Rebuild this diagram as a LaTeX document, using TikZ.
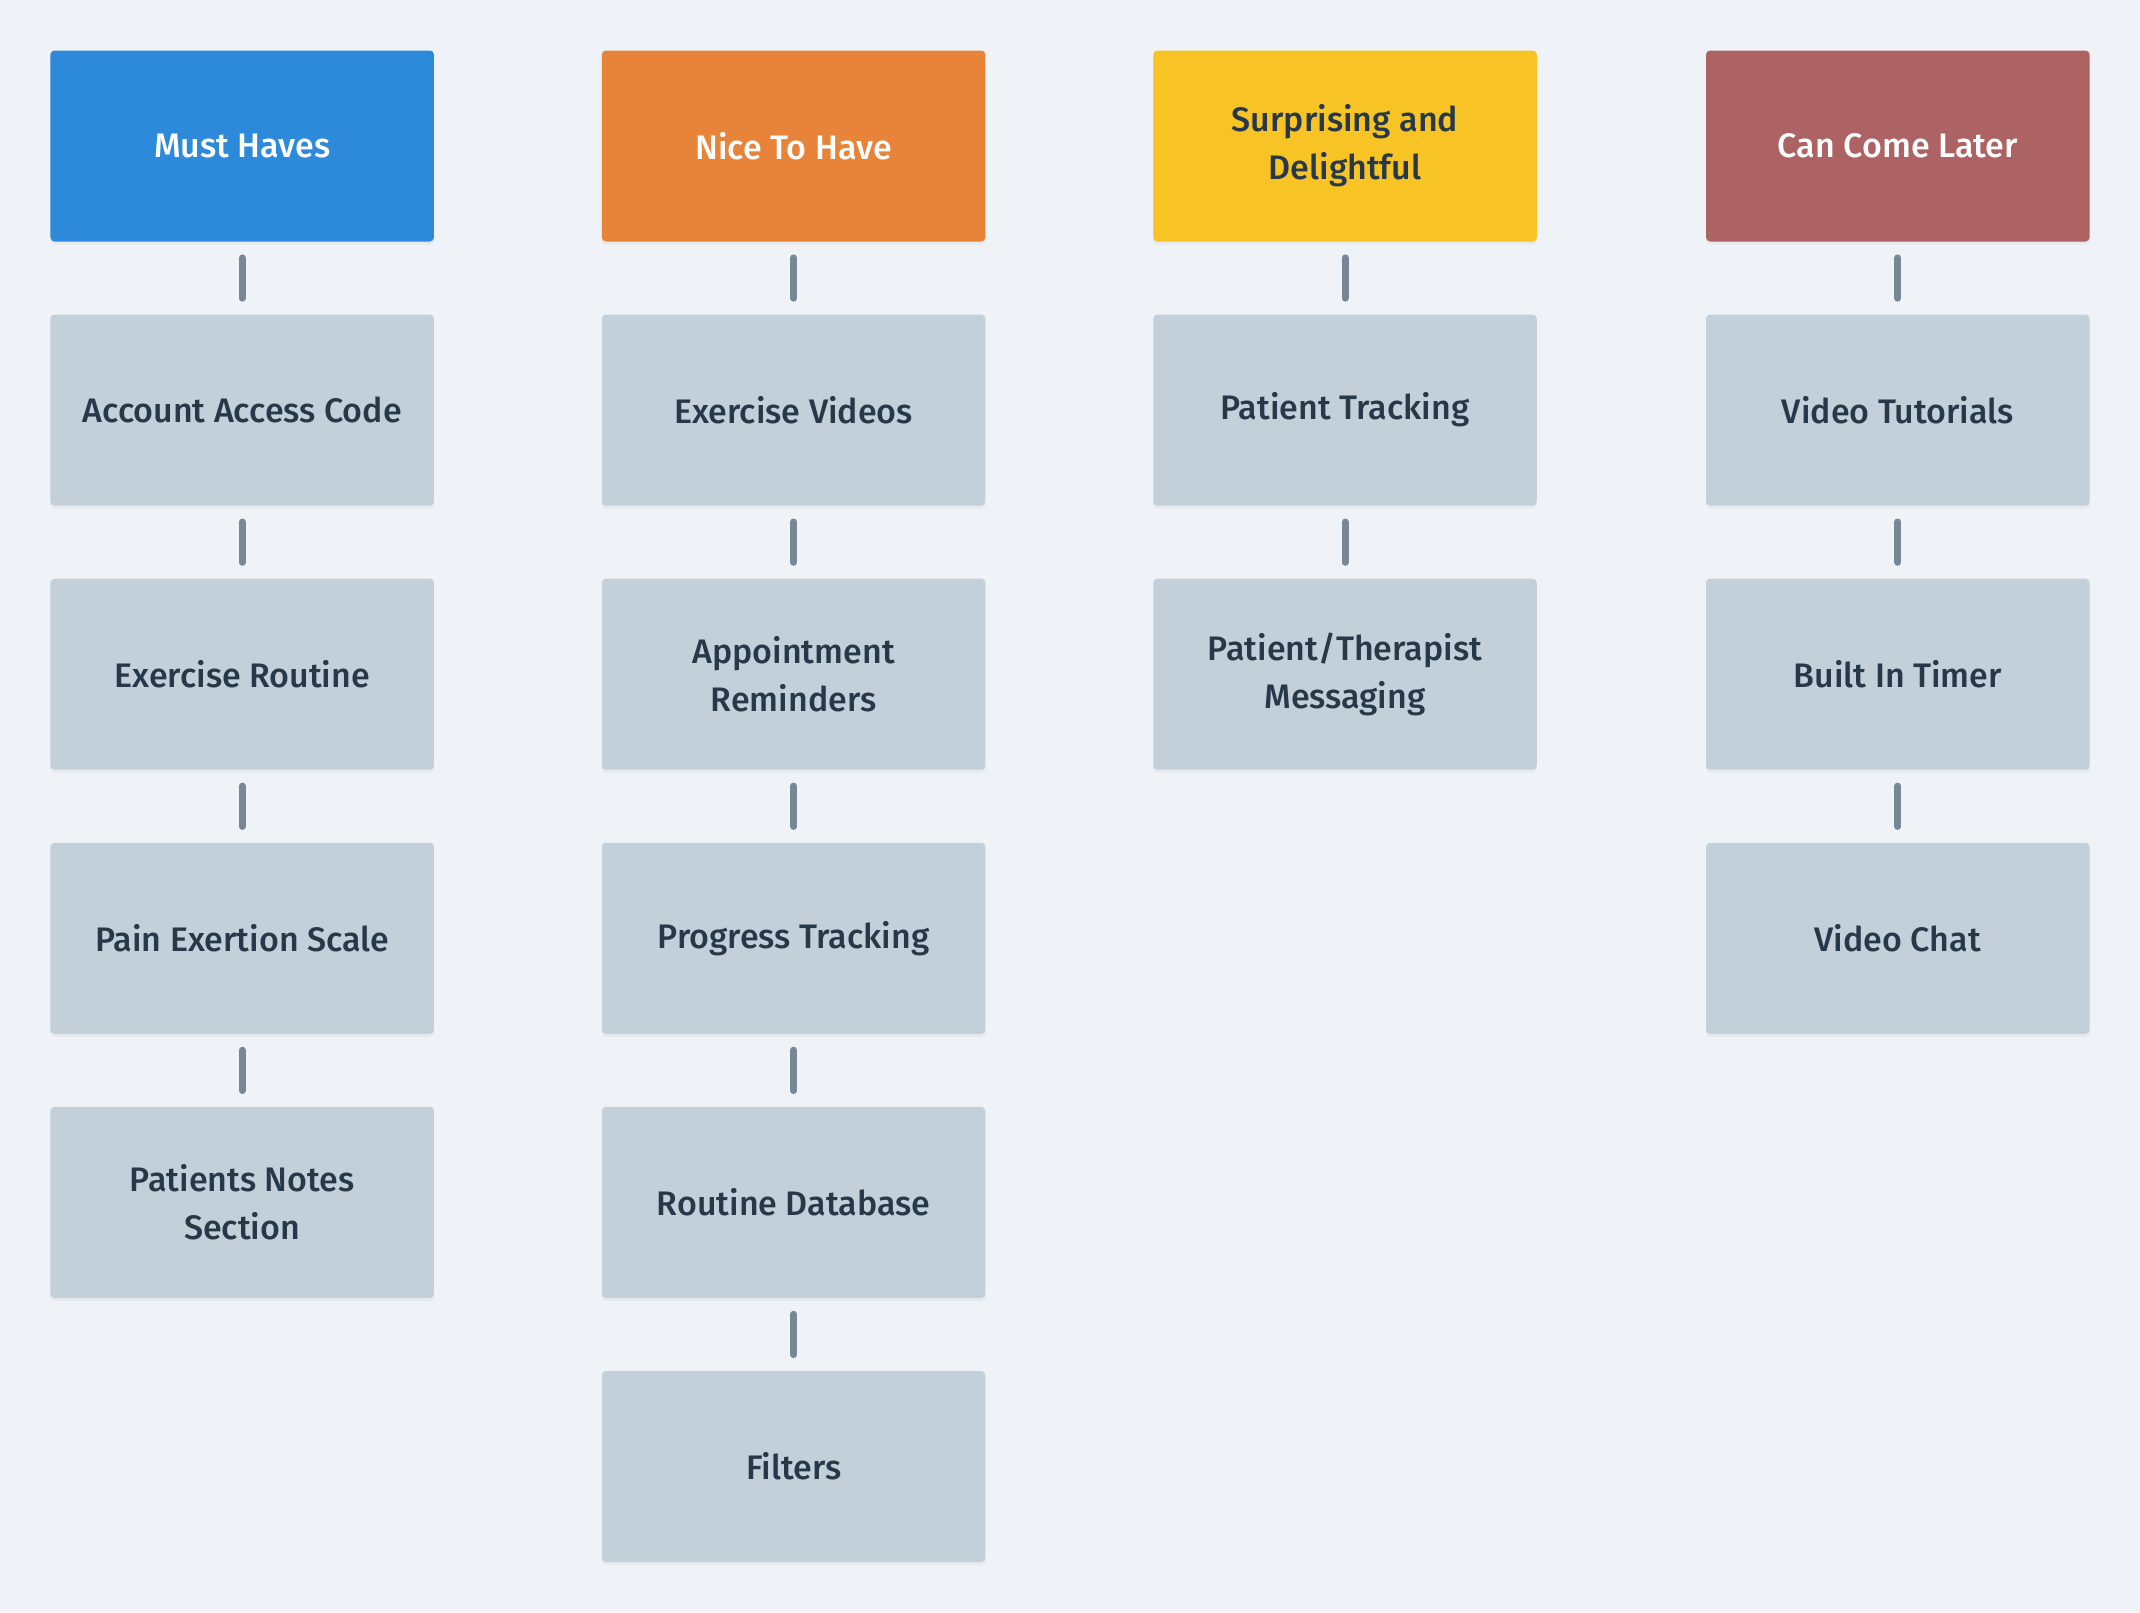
\documentclass[tikz,border=0pt]{standalone}
\usepackage{fontspec}
\setmainfont{Fira Sans}[UprightFont=* Medium]
\usetikzlibrary{positioning,shadows}
\definecolor{bgcol}{HTML}{EFF3F7}
\definecolor{cardgray}{HTML}{C3CFD9}
\definecolor{linkgray}{HTML}{788796}
\definecolor{ink}{HTML}{273849}
\definecolor{mustblue}{HTML}{2D89DA}
\definecolor{niceorange}{HTML}{E8843A}
\definecolor{surpyellow}{HTML}{F7C325}
\definecolor{laterred}{HTML}{AD6363}
\begin{document}
\begin{tikzpicture}[x=1pt, y=1pt, node distance=36.15pt,
		font=\fontsize{17}{24}\selectfont,
		card/.style={rectangle, rounded corners=2pt, minimum width=191.75pt, minimum height=95.5pt,
			align=center, text=ink,
			drop shadow={opacity=0.08, shadow xshift=0pt, shadow yshift=-1.5pt}},
		item/.style={card, fill=cardgray},
		head/.style={card, fill=#1, text=white},
		link/.style={draw=linkgray, line width=3.5pt, line cap=round, shorten <=8pt, shorten >=8pt}]
		% page
		\fill[bgcol] (0,0) rectangle (1070,-806);
		\useasboundingbox (0,0) rectangle (1070,-806);
		% column heads
		\node[head=mustblue] (mh) at (121.1,-73) {Must Haves};
		\node[head=niceorange] (nh) at (396.8,-73) {Nice To Have};
		\node[head=surpyellow, text=ink] (sd) at (672.5,-73) {Surprising and\\Delightful};
		\node[head=laterred] (cl) at (948.9,-73) {Can Come Later};
		% must haves
		\node[item, below=of mh] (mh1) {Account Access Code};
		\node[item, below=of mh1] (mh2) {Exercise Routine};
		\node[item, below=of mh2] (mh3) {Pain Exertion Scale};
		\node[item, below=of mh3] (mh4) {Patients Notes\\Section};
		% nice to have
		\node[item, below=of nh] (nh1) {Exercise Videos};
		\node[item, below=of nh1] (nh2) {Appointment\\Reminders};
		\node[item, below=of nh2] (nh3) {Progress Tracking};
		\node[item, below=of nh3] (nh4) {Routine Database};
		\node[item, below=of nh4] (nh5) {Filters};
		% surprising
		\node[item, below=of sd] (sd1) {Patient Tracking};
		\node[item, below=of sd1] (sd2) {Patient/Therapist\\Messaging};
		% later
		\node[item, below=of cl] (cl1) {Video Tutorials};
		\node[item, below=of cl1] (cl2) {Built In Timer};
		\node[item, below=of cl2] (cl3) {Video Chat};
		% connectors
		\foreach \a/\b in {mh/mh1, mh1/mh2, mh2/mh3, mh3/mh4,
			nh/nh1, nh1/nh2, nh2/nh3, nh3/nh4, nh4/nh5,
			sd/sd1, sd1/sd2,
			cl/cl1, cl1/cl2, cl2/cl3} {
			\draw[link] (\a) -- (\b);
		};
\end{tikzpicture}
\end{document}
